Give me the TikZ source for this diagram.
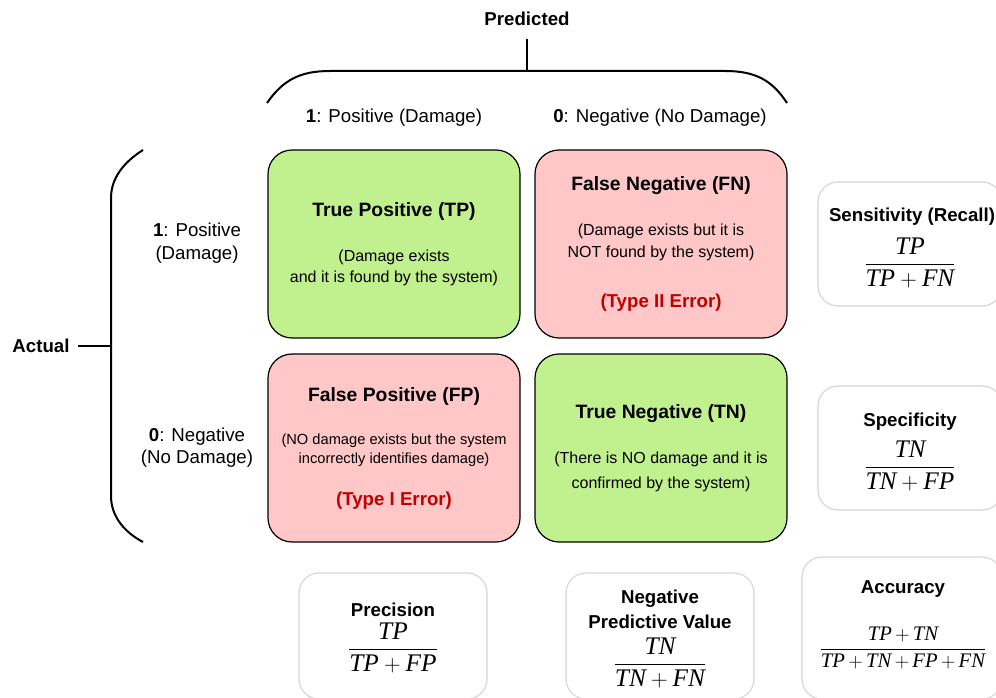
\documentclass[tikz,border=0pt]{standalone}
\usepackage{fontspec}
\setmainfont{Liberation Sans}
\newfontfamily\fracfont{Liberation Serif}
\usepackage{amsmath}
\usepackage{tikz}

\definecolor{okgreen}{RGB}{193,240,142}
\definecolor{badpink}{RGB}{255,199,199}
\definecolor{errred}{RGB}{192,0,0}
\definecolor{boxgray}{RGB}{214,214,214}

\newcommand{\cellttl}{\fontsize{14.5}{17}\selectfont\bfseries}
\newcommand{\errttl}{\fontsize{14}{17}\selectfont\bfseries\color{errred}}
\newcommand{\mv}[1]{\text{\fracfont\itshape #1}}

\tikzset{
  cell/.style={draw, line width=0.9pt, rounded corners=18pt, minimum width=189pt, minimum height=141pt, align=center},
  metric/.style={draw=boxgray, line width=0.9pt, rounded corners=15pt},
  mttl/.style={font=\fontsize{14}{18.75}\selectfont\bfseries, align=center},
  mfrac/.style={font=\fontsize{19}{21}\selectfont},
  lbl/.style={font=\fontsize{14}{17.25}\selectfont, align=center},
  brace/.style={line width=1.5pt}
}

\begin{document}
\begin{tikzpicture}[x=0.75pt, y=-0.75pt]
    \useasboundingbox (0,0) rectangle (996,698);

    \node[lbl, font=\fontsize{14}{17}\selectfont\bfseries] (pred) at (527,19) {Predicted};
    \coordinate (ptip) at (527,71);
    \draw[brace] (267,103) .. controls (283,80) and (300,71) .. (330,71) -- (725,71) .. controls (755,71) and (772,80) .. (787,103);
    \draw[brace, shorten <=6pt] (pred) -- (ptip);
    \node[lbl] (pcol1) at (394,118) {\textbf{1}: Positive (Damage)};
    \node[lbl] (pcol0) at (660,118) {\textbf{0}: Negative (No Damage)};

    \node[lbl, font=\fontsize{14}{17}\selectfont\bfseries] (act) at (41,346) {Actual};
    \coordinate (atip) at (111,346);
    \draw[brace] (143,150) .. controls (124,162) and (111,178) .. (111,198) -- (111,496) .. controls (111,516) and (124,532) .. (143,542);
    \draw[brace, shorten <=3pt] (act) -- (atip);
    \node[lbl] (arow1) at (197,243) {\textbf{1}: Positive\\(Damage)};
    \node[lbl, font=\fontsize{14}{16.5}\selectfont] (arow0) at (197,448) {\textbf{0}: Negative\\(No Damage)};

    \node[cell, fill=okgreen, font=\fontsize{12}{15.75}\selectfont] (tp) at (394,244) {{\cellttl True Positive (TP)}\\[17.6pt](Damage exists\\and it is found by the system)};
    \node[cell, fill=badpink, font=\fontsize{12}{16.5}\selectfont] (fn) at (661,244) {{\cellttl False Negative (FN)}\\[17pt](Damage exists but it is\\NOT found by the system)\\[21pt]{\errttl (Type II Error)}};
    \node[cell, fill=badpink, font=\fontsize{11}{14.25}\selectfont] (fp) at (394,448) {{\cellttl False Positive (FP)}\\[18pt](NO damage exists but the system\\incorrectly identifies damage)\\[17.25pt]{\errttl (Type I Error)}};
    \node[cell, fill=okgreen, font=\fontsize{12}{18.75}\selectfont] (tn) at (661,448) {{\cellttl True Negative (TN)}\\[14.6pt](There is NO damage and it is\\confirmed by the system)};

    \node[metric, minimum width=138pt, minimum height=93pt] (sens) at (910,244) {};
    \node[mttl] (sens-t) at (912,217) {Sensitivity (Recall)};
    \node[mfrac] (sens-f) at (910,263) {$\dfrac{\mv{TP}}{\mv{TP}+\mv{FN}}$};

    \node[metric, minimum width=138pt, minimum height=93pt] (spec) at (910,448) {};
    \node[mttl] (spec-t) at (910,422) {Specificity};
    \node[mfrac] (spec-f) at (910,466) {$\dfrac{\mv{TN}}{\mv{TN}+\mv{FP}}$};

    \node[metric, minimum width=141pt, minimum height=94.5pt] (prec) at (393,636) {};
    \node[mttl] (prec-t) at (393,610) {Precision};
    \node[mfrac] (prec-f) at (393,648) {$\dfrac{\mv{TP}}{\mv{TP}+\mv{FP}}$};

    \node[metric, minimum width=141pt, minimum height=94.5pt] (npv) at (660,636) {};
    \node[mttl] (npv-t) at (660,609.5) {Negative\\Predictive Value};
    \node[mfrac] (npv-f) at (660,663) {$\dfrac{\mv{TN}}{\mv{TN}+\mv{FN}}$};

    \node[metric, minimum width=150pt, minimum height=106.5pt] (acc) at (902,628) {};
    \node[mttl] (acc-t) at (903,589) {Accuracy};
    \node[mfrac, font=\fontsize{15.5}{17}\selectfont] (acc-f) at (903,648) {$\dfrac{\mv{TP}\,{+}\,\mv{TN}}{\mv{TP}\,{+}\,\mv{TN}\,{+}\,\mv{FP}\,{+}\,\mv{FN}}$};
  \end{tikzpicture}
\end{document}
